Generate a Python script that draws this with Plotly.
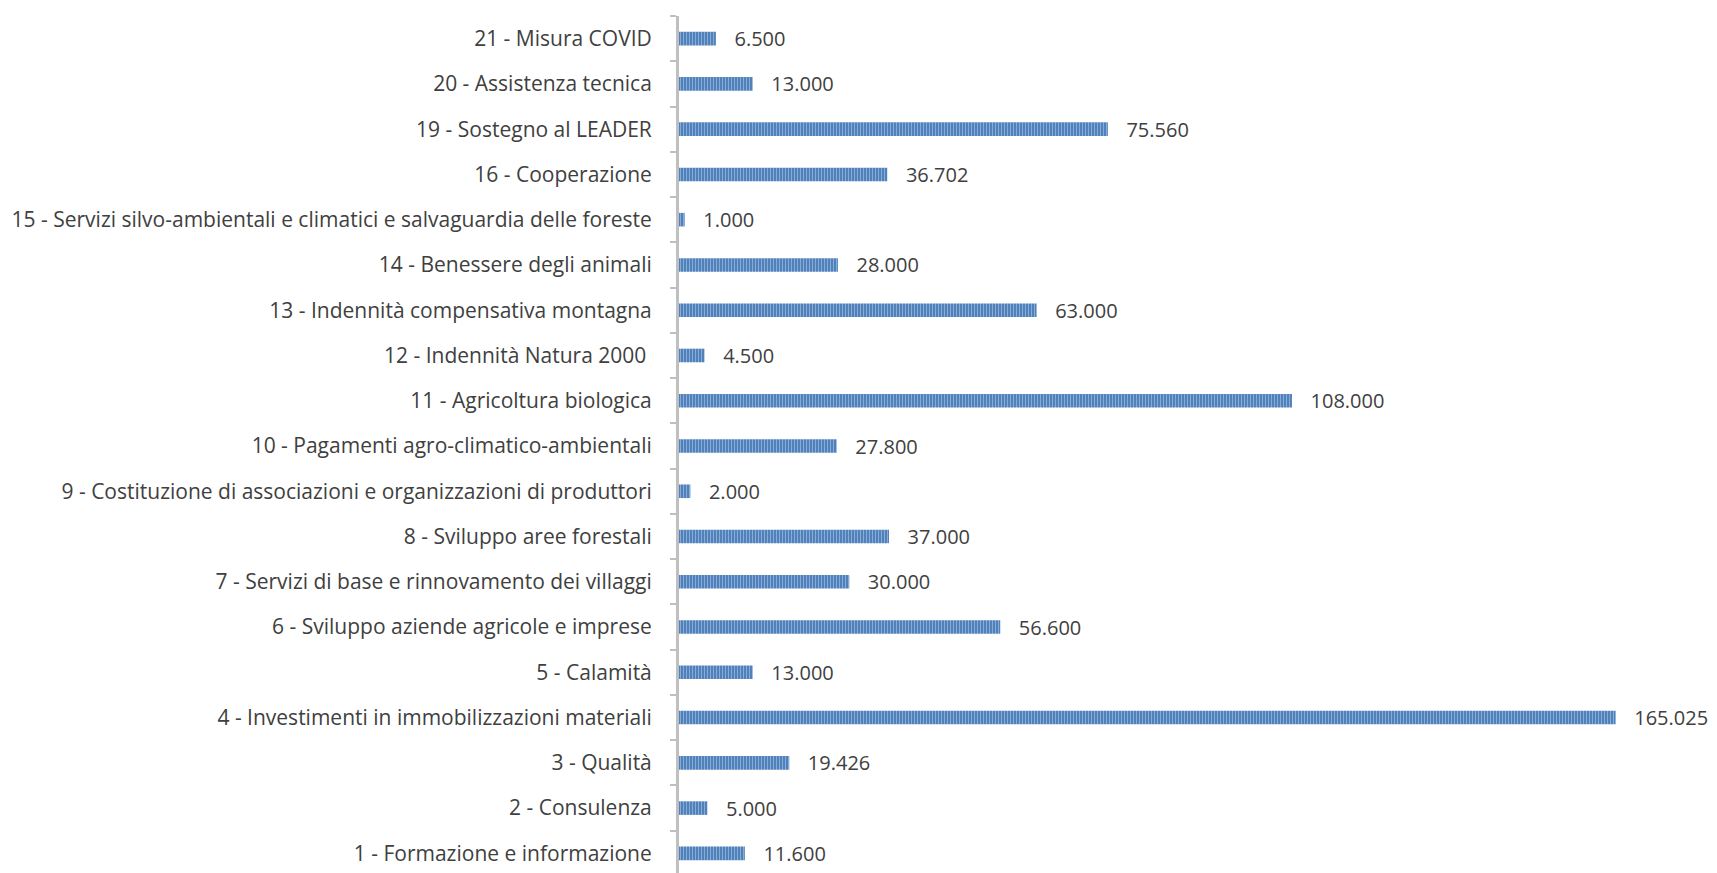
import plotly.graph_objects as go

categories = [
    "1 - Formazione e informazione",
    "2 - Consulenza",
    "3 - Qualità",
    "4 - Investimenti in immobilizzazioni materiali",
    "5 - Calamità",
    "6 - Sviluppo aziende agricole e imprese",
    "7 - Servizi di base e rinnovamento dei villaggi",
    "8 - Sviluppo aree forestali",
    "9 - Costituzione di associazioni e organizzazioni di produttori",
    "10 - Pagamenti agro-climatico-ambientali",
    "11 - Agricoltura biologica",
    "12 - Indennità Natura 2000 ",
    "13 - Indennità compensativa montagna",
    "14 - Benessere degli animali",
    "15 - Servizi silvo-ambientali e climatici e salvaguardia delle foreste",
    "16 - Cooperazione",
    "19 - Sostegno al LEADER",
    "20 - Assistenza tecnica",
    "21 - Misura COVID",
]
values = [11600, 5000, 19426, 165025, 13000, 56600, 30000, 37000, 2000, 27800,
          108000, 4500, 63000, 28000, 1000, 36702, 75560, 13000, 6500]
value_labels = ["11.600", "5.000", "19.426", "165.025", "13.000", "56.600", "30.000",
                "37.000", "2.000", "27.800", "108.000", "4.500", "63.000", "28.000",
                "1.000", "36.702", "75.560", "13.000", "6.500"]

fig = go.Figure(go.Bar(
    y=categories,
    x=values,
    orientation="h",
    text=["   " + t for t in value_labels],
    textposition="outside",
    constraintext="none",
    cliponaxis=False,
    textfont=dict(family="Open Sans", size=20, color="#404040"),
    marker=dict(
        color="#4f81bd",
        line=dict(width=0),
        pattern=dict(shape="|", size=3, solidity=0.35, fgcolor="#c6d5ea", bgcolor="#4f81bd"),
    ),
))

fig.update_layout(
    width=1717, height=873,
    paper_bgcolor="white", plot_bgcolor="white",
    margin=dict(l=671, r=0, t=8, b=5),
    bargap=0.70,
    showlegend=False,
    xaxis=dict(range=[0, 184300], visible=False),
    yaxis=dict(
        type="category",
        showline=True, linecolor="#bfbfbf", linewidth=3,
        ticks="outside", tickson="boundaries", ticklen=6, tickwidth=2, tickcolor="#bfbfbf",
        tickfont=dict(family="Open Sans", size=21, color="#404040"),
        ticklabelstandoff=20,
        showgrid=False,
        automargin=False,
    ),
)

fig.write_html("out.html")
